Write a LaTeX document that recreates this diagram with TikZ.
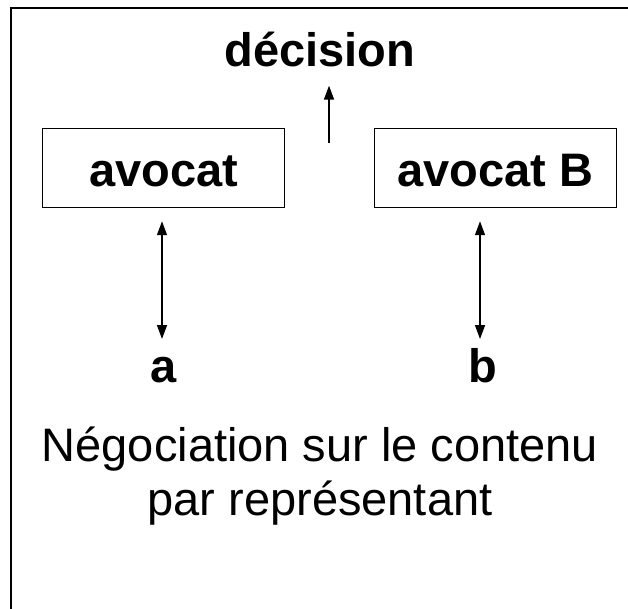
\documentclass[tikz,border=0pt]{standalone}
\usepackage{fontspec}
\setmainfont{Liberation Sans}
\usetikzlibrary{arrows.meta,calc}
\tikzset{
	lawyer/.style={draw, line width=1.5pt, minimum width=242pt, minimum height=79pt, inner sep=0pt, text height=37pt, text depth=0pt, font=\fontsize{47}{50}\selectfont\bfseries},
	party/.style={inner sep=0pt, anchor=base, font=\fontsize{47}{50}\selectfont\bfseries},
	link/.style={line width=1.5pt, -{Triangle[width=10pt,length=14pt]}},
	dlink/.style={line width=1.5pt, {Triangle[width=10pt,length=14pt]}-{Triangle[width=10pt,length=14pt]}}
}

\begin{document}
\begin{tikzpicture}[x=1pt,y=1pt]
			%%%%% START %%%%%
			\useasboundingbox (0,0) rectangle (628,-609);
			\draw[line width=2pt] (11,-609) -- (11,-8) -- (628,-8);
			
			\node[party] (decision) at (320,-67) {décision};
			\coordinate (up) at (329,-143);
			\draw[link, shorten >=18pt] (up) -- (decision.south -| up);
			
			\node[lawyer] (avA) at (163.5,-168) {avocat};
			\node[lawyer] (avB) at (495.5,-168) {avocat B};
			
			\node[party] (a) at (164,-382) {a};
			\node[party] (b) at (483,-382) {b};
			\coordinate (ta) at (162,-339);
			\coordinate (tb) at (480,-339);
			\draw[dlink, shorten >=13pt] (ta) -- (avA.south -| ta);
			\draw[dlink, shorten >=13pt] (tb) -- (avB.south -| tb);
			
			\node[anchor=base, inner sep=0pt, align=center, font=\fontsize{47}{54}\selectfont] (neg) at (320,-515) {Négociation sur le contenu\\par représentant};
			%%%%% END %%%%%
		\end{tikzpicture}
\end{document}
